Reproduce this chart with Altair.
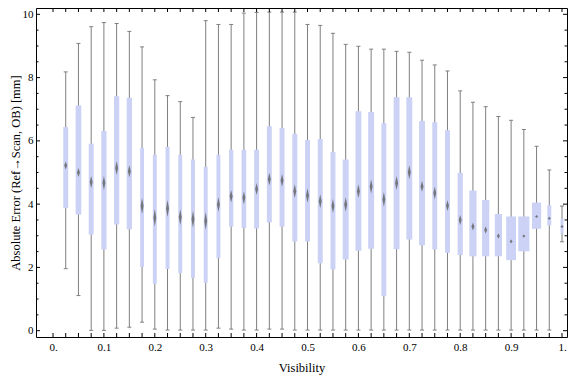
import altair as alt
import pandas as pd

# ---- data ----
visibility = [0.025, 0.05, 0.075, 0.1, 0.125, 0.15, 0.175, 0.2, 0.225, 0.25,
              0.275, 0.3, 0.325, 0.35, 0.375, 0.4, 0.425, 0.45, 0.475, 0.5,
              0.525, 0.55, 0.575, 0.6, 0.625, 0.65, 0.675, 0.7, 0.725, 0.75,
              0.775, 0.8, 0.825, 0.85, 0.875, 0.9, 0.925, 0.95, 0.975, 1.0]
whisker_low = [1.96, 1.11, 0.01, 0.01, 0.08, 0.11, 0.27, 0.05, 0.02, 0.02,
               0.02, 0.02, 0.08, 0.05, 0.02, 0.02, 0.05, 0.05, 0.02, 0.02,
               0.02, 0.02, 0.02, 0.02, 0.02, 0.02, 0.02, 0.02, 0.02, 0.02,
               0.02, 0.02, 0.02, 0.02, 0.02, 0.02, 0.02, 0.02, 0.02, 2.81]
quart_1 = [3.88, 3.67, 3.04, 2.57, 3.36, 3.21, 2.01, 1.48, 1.95, 1.82,
           1.67, 1.51, 2.29, 3.29, 3.25, 3.23, 3.42, 3.29, 2.82, 2.82,
           2.13, 1.94, 2.25, 2.53, 2.59, 1.09, 2.57, 2.88, 2.70, 2.57,
           2.46, 2.39, 2.35, 2.35, 2.35, 2.23, 2.51, 3.22, 3.33, 3.07]
median = [5.22, 5.00, 4.70, 4.67, 5.14, 5.04, 3.94, 3.57, 3.86, 3.59,
          3.52, 3.47, 3.99, 4.25, 4.20, 4.48, 4.79, 4.75, 4.41, 4.27,
          4.09, 3.94, 3.99, 4.41, 4.56, 4.15, 4.67, 5.01, 4.56, 4.35,
          3.95, 3.50, 3.29, 3.18, 2.99, 2.82, 2.99, 3.61, 3.55, 3.29]
quart_3 = [6.44, 7.12, 5.91, 6.31, 7.41, 7.36, 5.78, 5.56, 5.81, 5.56,
           5.41, 5.18, 5.56, 5.72, 5.72, 5.72, 6.46, 6.41, 6.22, 6.03,
           6.06, 5.65, 5.41, 6.94, 6.91, 6.56, 7.38, 7.38, 6.63, 6.59,
           6.34, 4.99, 4.43, 4.13, 3.69, 3.61, 3.61, 4.05, 3.97, 3.54]
whisker_high = [8.18, 9.08, 9.61, 9.74, 9.71, 9.46, 8.97, 7.93, 7.43, 7.24,
                6.74, 9.80, 9.68, 9.68, 10.04, 10.06, 10.07, 10.07, 10.07, 9.68,
                9.65, 9.40, 9.05, 8.99, 8.90, 8.90, 8.83, 8.80, 8.55, 8.40,
                8.21, 7.58, 7.22, 7.08, 6.77, 6.65, 6.36, 5.83, 5.08, 3.94]
# box widths (in visibility units) and median notch half-heights (mm)
box_width = [0.0097, 0.0110, 0.0097, 0.0103, 0.0103, 0.0103, 0.0077, 0.0077, 0.0077, 0.0077,
             0.0077, 0.0077, 0.0077, 0.0083, 0.0091, 0.0097, 0.0097, 0.0097, 0.0097, 0.0097,
             0.0097, 0.0097, 0.0116, 0.0116, 0.0116, 0.0097, 0.0116, 0.0116, 0.0116, 0.0097,
             0.0097, 0.0103, 0.0141, 0.0141, 0.0141, 0.0193, 0.0219, 0.0180, 0.0077, 0.0058]
median_ci = [0.125, 0.14, 0.19, 0.22, 0.22, 0.20, 0.25, 0.28, 0.27, 0.25,
             0.27, 0.28, 0.23, 0.20, 0.20, 0.19, 0.20, 0.20, 0.22, 0.23,
             0.22, 0.22, 0.23, 0.22, 0.22, 0.23, 0.22, 0.22, 0.17, 0.20,
             0.17, 0.16, 0.125, 0.11, 0.08, 0.06, 0.05, 0.05, 0.05, 0.05]

x_tick_values = [i / 40 for i in range(41)]
x_label_values = [i / 10 for i in range(11)]
y_major_values = [0, 2, 4, 6, 8, 10]
y_minor_values = [0.5, 1, 1.5, 2.5, 3, 3.5, 4.5, 5, 5.5, 6.5, 7, 7.5, 8.5, 9, 9.5]

# ---- tables ----
df = pd.DataFrame({
    "v": visibility, "lo": whisker_low, "q1": quart_1, "med": median,
    "q3": quart_3, "hi": whisker_high, "bw": box_width, "ci": median_ci,
})
df["xl"] = df["v"] - df["bw"] / 2
df["xr"] = df["v"] + df["bw"] / 2

DIAMOND_HALF_W = 0.0029
rows = []
for i, r in df.iterrows():
    rows.append({"id": i, "x": r.v - DIAMOND_HALF_W, "y": r.med, "y2": r.med})
    rows.append({"id": i, "x": r.v, "y": r.med - r.ci, "y2": r.med + r.ci})
    rows.append({"id": i, "x": r.v + DIAMOND_HALF_W, "y": r.med, "y2": r.med})
diamonds = pd.DataFrame(rows)

W, H = 531, 329
FONT = "Liberation Serif"
xs = alt.Scale(domain=[-0.0334, 1.0098], nice=False, zero=False)
ys = alt.Scale(domain=[-0.2, 10.2], nice=False, zero=False)

x_axis = alt.Axis(values=x_label_values, ticks=False, domain=False, grid=False,
                  labelExpr="datum.value == 0 ? '0.' : (datum.value == 1 ? '1.' : format(datum.value, '.1f'))",
                  labelPadding=4, titlePadding=9, title="Visibility")
y_axis = alt.Axis(values=y_major_values, ticks=False, domain=False, grid=False,
                  labelPadding=3, format="d",
                  titleX=-27, titleBaseline="top",
                  title="Absolute Error (Ref\u2192Scan, OB) [mm]")


def X(field):
    return alt.X(field, scale=xs, axis=x_axis)


def Y(field):
    return alt.Y(field, scale=ys, axis=y_axis)


GRAY = "#7f7f7f"
whiskers = alt.Chart(df).mark_rule(color=GRAY, strokeWidth=1).encode(
    x=X("v:Q"), y=Y("lo:Q"), y2="hi:Q")
cap_hi = alt.Chart(df).mark_tick(orient="horizontal", size=4, thickness=1, color=GRAY, opacity=1).encode(
    x=X("v:Q"), y=Y("hi:Q"))
cap_lo = alt.Chart(df).mark_tick(orient="horizontal", size=4, thickness=1, color=GRAY, opacity=1).encode(
    x=X("v:Q"), y=Y("lo:Q"))
boxes = alt.Chart(df).mark_bar(color="#cbd2f5", opacity=1).encode(
    x=X("xl:Q"), x2="xr:Q", y=Y("q1:Q"), y2="q3:Q")
meds = alt.Chart(diamonds).mark_area(orient="vertical", color="#666666", opacity=0.85).encode(
    x=X("x:Q"), y=Y("y:Q"), y2="y2:Q", detail="id:N")

xt = pd.DataFrame({"t": x_tick_values})
ymaj = pd.DataFrame({"t": y_major_values})
ymin = pd.DataFrame({"t": y_minor_values})


def xticks(y0, y1):
    return alt.Chart(xt).mark_rule(color="black", strokeWidth=1).encode(
        x=X("t:Q"), y=alt.value(y0), y2=alt.value(y1))


def yticks(data, x0, x1):
    return alt.Chart(data).mark_rule(color="black", strokeWidth=1).encode(
        y=Y("t:Q"), x=alt.value(x0), x2=alt.value(x1))


chart = alt.layer(
    whiskers, cap_hi, cap_lo, boxes, meds,
    xticks(H, H - 4), xticks(0, 4),
    yticks(ymaj, 0, 4), yticks(ymin, 0, 2.5),
    yticks(ymaj, W, W - 4), yticks(ymin, W, W - 2.5),
).properties(
    width=W, height=H,
    autosize=alt.AutoSizeParams(type="none"),
    padding={"left": 28, "top": 0, "right": 1, "bottom": 40},
).configure_view(
    stroke="black", strokeWidth=1,
).configure_axis(
    labelFont=FONT, labelFontSize=11, labelColor="black",
    titleFont=FONT, titleFontSize=12.5, titleColor="black", titleFontWeight="normal",
)

chart.save("out.html", embed_options={"renderer": "svg", "actions": False})
